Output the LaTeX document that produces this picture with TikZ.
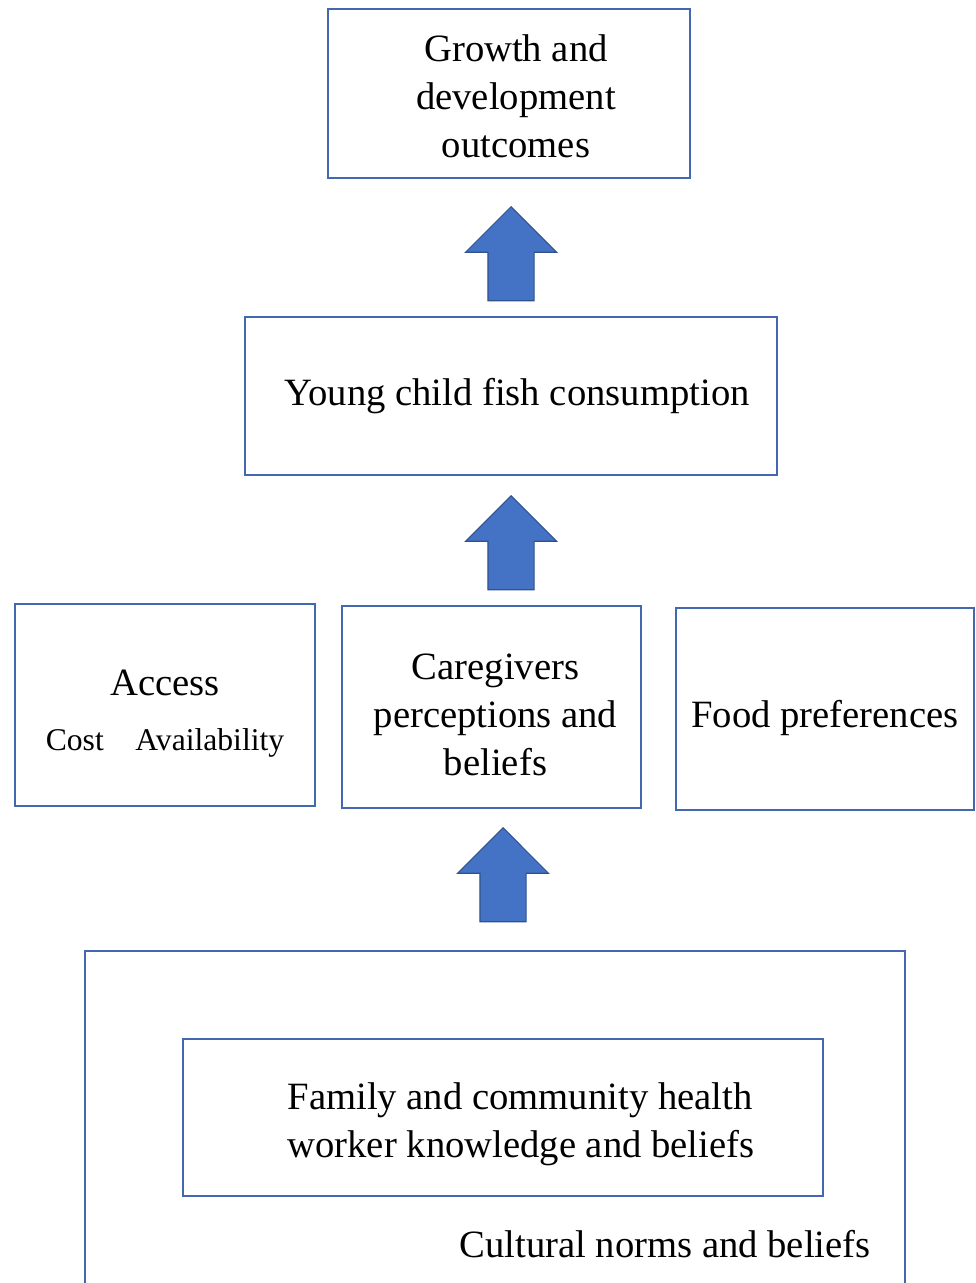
\documentclass[tikz,border=0pt]{standalone}
\usepackage{fontspec}
\setmainfont{Liberation Serif}
\usetikzlibrary{positioning,shapes.arrows}
\definecolor{boxline}{RGB}{68,104,176}
\definecolor{arrowfill}{RGB}{68,114,196}
\definecolor{arrowline}{RGB}{47,82,143}
% push a block of text down inside its box without changing the box
\newcommand{\sinktext}[2]{\raisebox{-#1}[\height][\depth]{#2}}

\begin{document}
\begin{tikzpicture}[
    x=0.02cm, y=-0.02cm,
    every node/.style={font=\fontsize{22}{27.3}\selectfont},
    factor/.style={rectangle,draw=boxline,line width=0.8pt,
                   align=center,inner sep=0pt},
    uparrow/.style={single arrow,draw=arrowline,fill=arrowfill,line width=0.6pt,
                    rotate=90,anchor=tip,minimum height=1.88cm,minimum width=1.8cm,
                    single arrow head extend=0.45cm,inner xsep=0pt,inner ysep=0.45cm}
]
\clip (0,0) rectangle (975,1283);
\node[factor,minimum width=7.24cm,minimum height=3.38cm] (growth) at (509,93.5)
    {\hspace{0.28cm}\sinktext{0.12cm}{\begin{tabular}{@{}c@{}}Growth and\\development\\outcomes\end{tabular}}};
\node[uparrow] (up1) at (511,206) {};
\node[factor,minimum width=10.64cm,minimum height=3.16cm] (young) at (511,396)
    {\hspace{0.24cm}Young child fish consumption};
\node[uparrow] (up2) at (511,495) {};
\node[factor,minimum width=6cm,minimum height=4.04cm] (access) at (165,705)
    {\sinktext{0.16cm}{\begin{tabular}{@{}c@{}}Access\\[4pt]{\fontsize{18}{21}\selectfont Cost\quad Availability}\end{tabular}}};
\node[factor,minimum width=5.98cm,minimum height=4.04cm] (care) at (491.5,707)
    {\hspace{0.16cm}\sinktext{0.22cm}{\begin{tabular}{@{}c@{}}Caregivers\\perceptions and\\beliefs\end{tabular}}};
\node[factor,minimum width=5.96cm,minimum height=4.04cm] (food) at (825,709)
    {\sinktext{0.18cm}{Food preferences}};
\node[uparrow] (up3) at (503,827) {};
% cultural context box runs off the bottom edge
\node[factor,minimum width=16.4cm,minimum height=7cm] (culture) at (495,1126) {};
\node[factor,minimum width=12.8cm,minimum height=3.14cm] (family) at (503,1117.5)
    {\hspace{0.72cm}\sinktext{0.12cm}{\begin{tabular}{@{}l@{}}Family and community health\\worker knowledge and beliefs\end{tabular}}};
\node (norms) at (665,1244) {Cultural norms and beliefs};
\end{tikzpicture}
\end{document}
